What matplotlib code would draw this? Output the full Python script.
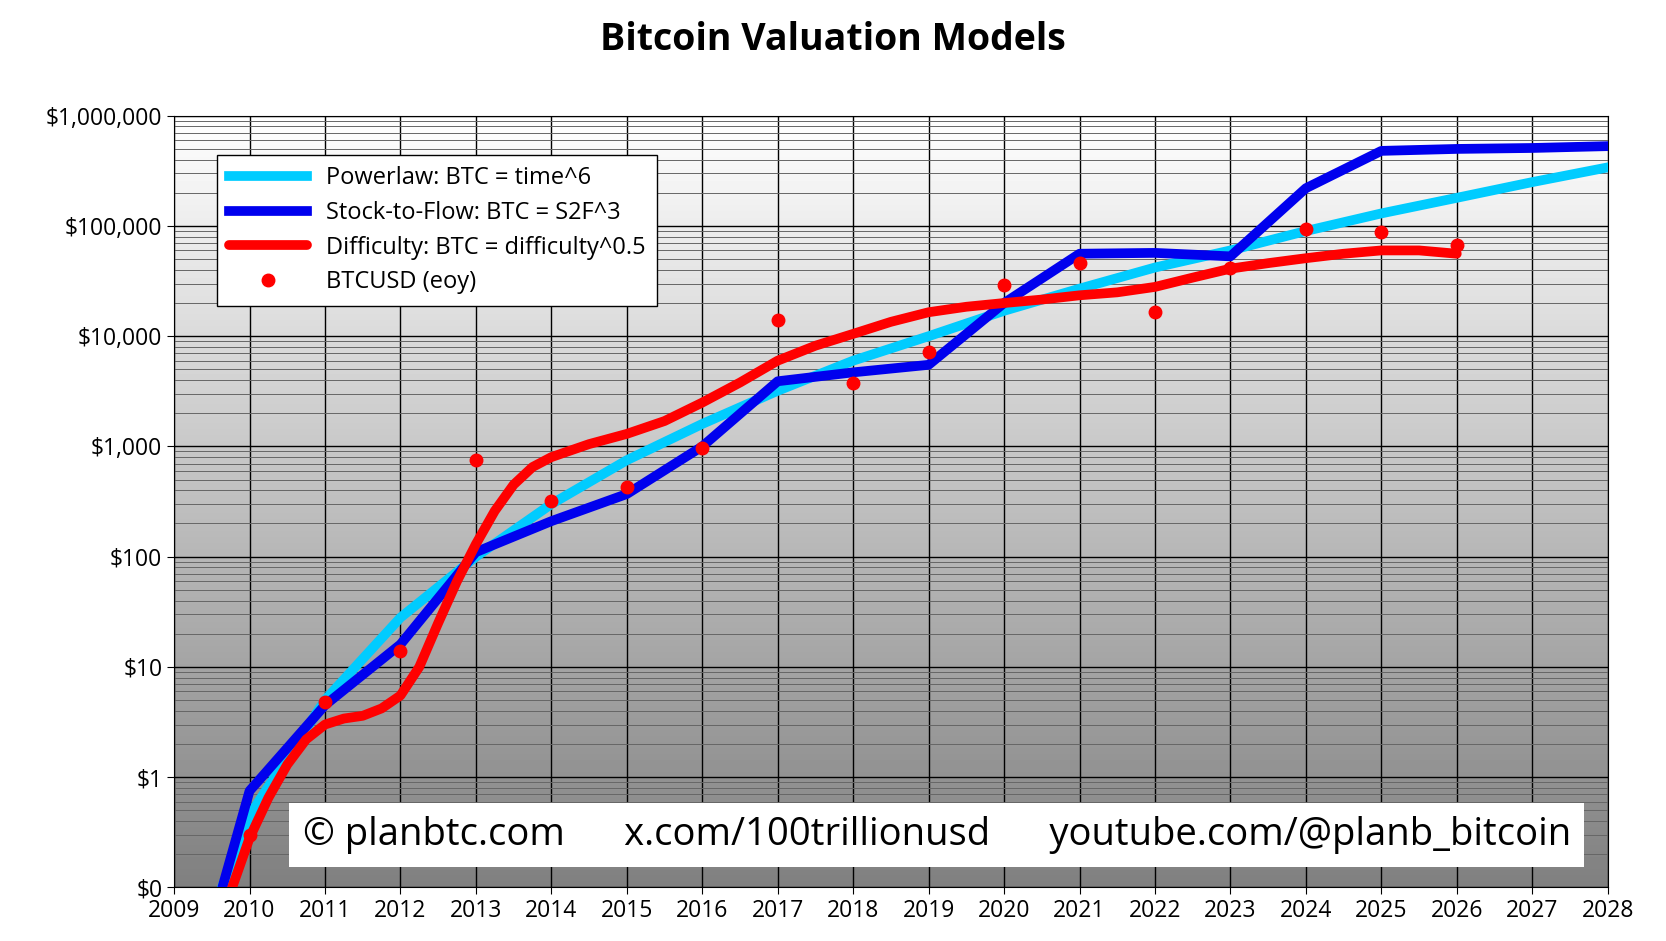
import numpy as np
import matplotlib
matplotlib.use("Agg")
import matplotlib.pyplot as plt
from matplotlib.ticker import FixedLocator, NullFormatter, LogLocator

plt.rcParams['font.family'] = ['Open Sans', 'DejaVu Sans']

pl_years = [2009.58, 2010, 2011, 2012, 2013, 2014, 2015, 2016, 2017, 2018, 2019, 2020,
            2021, 2022, 2023, 2024, 2025, 2026, 2027, 2028]
pl_vals = [0.08, 0.45, 5, 28, 100, 300, 750, 1600, 3200, 6000, 10000, 17000,
           27000, 42000, 60000, 90000, 130000, 180000, 250000, 340000]

s2f_years = [2009.6, 2010, 2011, 2012, 2013, 2014, 2015, 2016, 2017, 2018, 2019, 2020,
             2021, 2022, 2023, 2024, 2025, 2026, 2027, 2028]
s2f_vals = [0.08, 0.75, 4.5, 16, 110, 210, 370, 1000, 3900, 4700, 5500, 20000,
            56000, 57000, 53000, 220000, 480000, 500000, 510000, 530000]

diff_years = [2009.72, 2010, 2010.25, 2010.5, 2010.75, 2011, 2011.25, 2011.5, 2011.75, 2012,
              2012.25, 2012.5, 2012.75, 2013, 2013.25, 2013.5, 2013.75, 2014, 2014.5,
              2015, 2015.5, 2016, 2016.5, 2017, 2017.5, 2018, 2018.5, 2019, 2019.5, 2020,
              2020.5, 2021, 2021.5, 2022, 2022.5, 2023, 2023.5, 2024, 2024.5, 2025, 2025.5, 2026]
diff_vals = [0.08, 0.28, 0.65, 1.3, 2.2, 3.0, 3.4, 3.6, 4.2, 5.5,
             10, 25, 60, 130, 260, 450, 650, 800, 1050,
             1300, 1700, 2500, 3800, 6000, 8200, 10500, 13500, 16500, 18500, 20000,
             21500, 23500, 25000, 28000, 34000, 41000, 46000, 51000, 56000, 60000, 60000, 56000]

btc_years = [2010, 2011, 2012, 2013, 2014, 2015, 2016, 2017, 2018, 2019, 2020, 2021,
             2022, 2023, 2024, 2025, 2026]
btc_vals = [0.3, 4.8, 13.8, 760, 320, 430, 970, 14000, 3800, 7200, 29000, 46000,
            16500, 42000, 94000, 88000, 67000]

ytick_vals = [0.1, 1, 10, 100, 1000, 10000, 100000, 1000000]
ytick_labels = ['$0', '$1', '$10', '$100', '$1,000', '$10,000', '$100,000', '$1,000,000']

fig = plt.figure(figsize=(16.66, 9.41), dpi=100)
ax = fig.add_axes([0.1045, 0.057, 0.8605, 0.82])
ax.set_yscale('log')
ax.set_xlim(2009, 2028)
ax.set_ylim(0.1, 1e6)

grad = np.linspace(1.0, 0.5, 256).reshape(-1, 1)
ax.imshow(grad, cmap='gray', vmin=0, vmax=1, aspect='auto', extent=[0, 1, 0, 1],
          transform=ax.transAxes, zorder=0, origin='upper')

ax.yaxis.set_major_locator(FixedLocator(ytick_vals))
ax.set_yticklabels(ytick_labels)
ax.yaxis.set_minor_locator(LogLocator(base=10, subs=np.arange(2, 10)))
ax.yaxis.set_minor_formatter(NullFormatter())
ax.set_xticks(range(2009, 2029))
ax.grid(which='major', color='black', linewidth=1.0, zorder=1)
ax.grid(which='minor', axis='y', color='#666666', linewidth=0.7, zorder=1)
ax.tick_params(axis='both', which='major', labelsize=16.5, length=5)
ax.tick_params(axis='y', which='minor', length=0)
for s in ax.spines.values():
    s.set_color('black')

ax.plot(pl_years, pl_vals, color='#00ccff', lw=7, label='Powerlaw: BTC = time^6', zorder=3)
ax.plot(s2f_years, s2f_vals, color='#0000ee', lw=7, label='Stock-to-Flow: BTC = S2F^3', zorder=4)
ax.plot(diff_years, diff_vals, color='#ff0000', lw=7, label='Difficulty: BTC = difficulty^0.5',
        zorder=5, solid_capstyle='round', solid_joinstyle='round')
ax.plot(btc_years, btc_vals, 'o', color='#ff0000', ms=9, label='BTCUSD (eoy)', zorder=6, linestyle='none')

leg = ax.legend(loc='upper left', bbox_to_anchor=(0.022, 0.965), fontsize=17, fancybox=False,
                framealpha=1, edgecolor='black', handlelength=3.3, borderpad=0.5, labelspacing=0.45)
leg.set_zorder(10)

ax.text(0.532, 0.068, '© planbtc.com      x.com/100trillionusd      youtube.com/@planb_bitcoin',
        transform=ax.transAxes, ha='center', va='center', fontsize=27.5, zorder=11,
        bbox=dict(boxstyle='square,pad=0.35', facecolor='white', edgecolor='none'))

fig.text(0.5, 0.958, 'Bitcoin Valuation Models', ha='center', va='center', fontsize=27,
         fontweight='bold')

fig.savefig('out.png', dpi=100)
